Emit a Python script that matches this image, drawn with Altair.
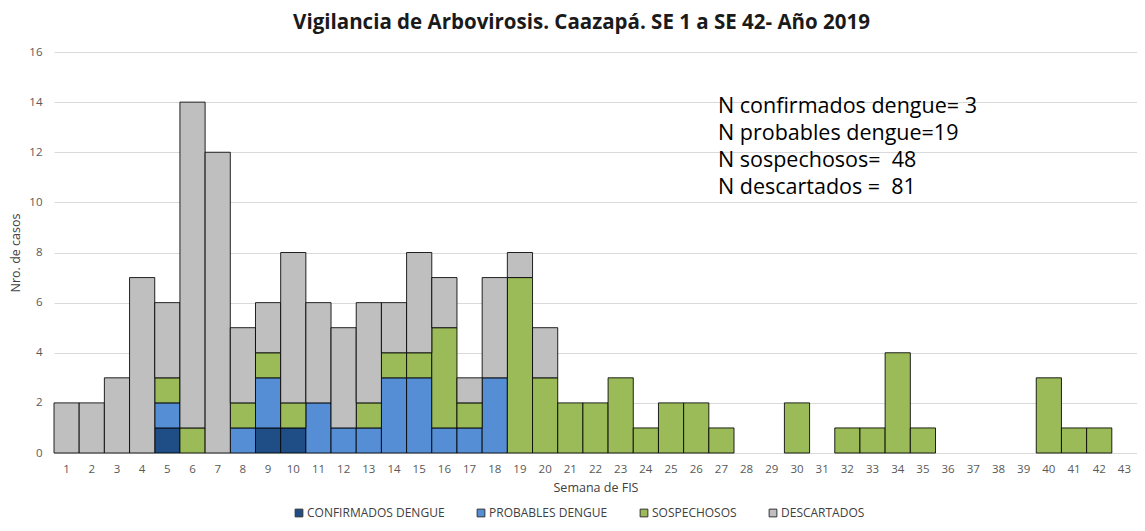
import altair as alt
import pandas as pd

weeks = [str(w) for w in range(1, 44)]

confirmados = [0, 0, 0, 0, 1, 0, 0, 0, 1, 1,
               0, 0, 0, 0, 0, 0, 0, 0, 0, 0,
               0, 0, 0, 0, 0, 0, 0, 0, 0, 0,
               0, 0, 0, 0, 0, 0, 0, 0, 0, 0,
               0, 0, 0]
probables = [0, 0, 0, 0, 1, 0, 0, 1, 2, 0,
             2, 1, 1, 3, 3, 1, 1, 3, 0, 0,
             0, 0, 0, 0, 0, 0, 0, 0, 0, 0,
             0, 0, 0, 0, 0, 0, 0, 0, 0, 0,
             0, 0, 0]
sospechosos = [0, 0, 0, 0, 1, 1, 0, 1, 1, 1,
               0, 0, 1, 1, 1, 4, 1, 0, 7, 3,
               2, 2, 3, 1, 2, 2, 1, 0, 0, 2,
               0, 1, 1, 4, 1, 0, 0, 0, 0, 3,
               1, 1, 0]
descartados = [2, 2, 3, 7, 3, 13, 12, 3, 2, 6,
               4, 4, 4, 2, 4, 2, 1, 4, 1, 2,
               0, 0, 0, 0, 0, 0, 0, 0, 0, 0,
               0, 0, 0, 0, 0, 0, 0, 0, 0, 0,
               0, 0, 0]

series_names = ["CONFIRMADOS DENGUE", "PROBABLES DENGUE", "SOSPECHOSOS", "DESCARTADOS"]
series_values = [confirmados, probables, sospechosos, descartados]
series_colors = ["#1F4E86", "#558ED5", "#9BBB59", "#BFBFBF"]

annotation_lines = [
    "N confirmados dengue= 3",
    "N probables dengue=19",
    "N sospechosos=\u00a0\u00a048",
    "N descartados =\u00a0\u00a081",
]

rows = []
for order, (name, vals) in enumerate(zip(series_names, series_values)):
    for w, v in zip(weeks, vals):
        rows.append({"semana": w, "serie": name, "casos": v, "orden": order})
df = pd.DataFrame(rows)
df = df[df["casos"] > 0]

FONT = "Open Sans"

bars = alt.Chart(df).mark_bar(stroke="#000000", strokeWidth=1, strokeOpacity=0.85).encode(
    x=alt.X("semana:N", sort=weeks,
            scale=alt.Scale(domain=weeks, paddingInner=0, paddingOuter=0),
            axis=alt.Axis(title="Semana de FIS", labelAngle=0, ticks=False, tickSize=0,
                          domain=False, labelPadding=10, titlePadding=7,
                          labelFontSize=11.5, titleFontSize=12.5,
                          labelColor="#595959", titleColor="#404040",
                          labelFont=FONT, titleFont=FONT, titleFontWeight="normal")),
    y=alt.Y("casos:Q", stack="zero",
            scale=alt.Scale(domain=[0, 16], nice=False),
            axis=alt.Axis(title="Nro. de casos", values=list(range(0, 17, 2)),
                          ticks=False, tickSize=0, domain=False, labelPadding=12,
                          titlePadding=6, grid=True, gridColor="#D9D9D9",
                          labelFontSize=11.5, titleFontSize=12.5,
                          labelColor="#595959", titleColor="#404040",
                          labelFont=FONT, titleFont=FONT, titleFontWeight="normal")),
    color=alt.Color("serie:N",
                    scale=alt.Scale(domain=series_names, range=series_colors),
                    legend=alt.Legend(title=None, orient="none", direction="horizontal",
                                      legendX=239, legendY=455, symbolType="square",
                                      symbolSize=60, symbolStrokeColor="#333333",
                                      symbolStrokeWidth=1, labelFontSize=12,
                                      labelFont=FONT, labelColor="#404040",
                                      columnPadding=30, labelOffset=2, padding=0,
                                      labelLimit=300)),
    order=alt.Order("orden:Q", sort="ascending"),
)

annot_df = pd.DataFrame({"texto": ["\n".join(annotation_lines)]})
annot = alt.Chart(annot_df).mark_text(
    align="left", baseline="middle", fontSize=21.5, font=FONT, color="#000000",
    lineBreak="\n", lineHeight=27,
).encode(
    x=alt.value(664),
    y=alt.value(55),
    text="texto:N",
)

chart = alt.layer(bars, annot).properties(
    width=1083,
    height=401,
    title=alt.TitleParams("Vigilancia de Arbovirosis. Caazapá. SE 1 a SE 42- Año 2019",
                          fontSize=20.5, font=FONT, fontWeight="bold", color="#1a1a1a",
                          anchor="middle", offset=13, dx=-14),
    autosize=alt.AutoSizeParams(type="none"),
    padding={"left": 46, "top": 44, "right": 0, "bottom": 70},
).configure_view(stroke=None)

chart.save("out.html", embed_options={"renderer": "svg", "actions": False})
